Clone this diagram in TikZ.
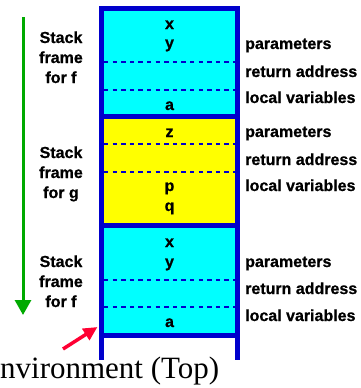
\documentclass[tikz,border=0pt]{standalone}
\usepackage{fontspec}
\setmainfont{Liberation Serif}
\newfontfamily\pixfont{Liberation Sans}[BoldFont={Liberation Sans Bold},BoldFeatures={FakeBold=0.8}]
\usetikzlibrary{arrows.meta}
\definecolor{stackblue}{RGB}{0,0,204}
\definecolor{framecyan}{RGB}{0,255,255}
\definecolor{frameyellow}{RGB}{255,255,0}
\definecolor{downgreen}{RGB}{0,170,0}
\definecolor{toppink}{RGB}{255,0,51}
\begin{document}
\begin{tikzpicture}[x=1pt,y=-1pt,
  lbl/.style={font=\pixfont\bfseries\fontsize{16}{20}\selectfont,inner sep=0pt,anchor=base},
  side/.style={lbl,anchor=base west},
  var/.style={lbl},
  wall/.style={fill=stackblue,draw=none},
  slot/.style={draw=stackblue,line width=2.5pt,dash pattern=on 4.3pt off 4.3pt},
  growth/.style={draw=downgreen,line width=3pt,-{Triangle[length=15pt,width=16pt]}},
  pointer/.style={draw=toppink,line width=3.5pt,-{Triangle[length=14pt,width=13pt]}}]
\useasboundingbox (0,0) rectangle (361,388);
\clip (0,0) rectangle (361,388);

% frame fills
\fill[framecyan]   (104,11)  rectangle (235,114);
\fill[frameyellow] (104,119) rectangle (235,223);
\fill[framecyan]   (104,228) rectangle (235,333);

% slot separators inside each frame
\draw[slot] (104,62)  -- (235,62);
\draw[slot] (104,90)  -- (235,90);
\draw[slot] (104,144) -- (235,144);
\draw[slot] (104,172) -- (235,172);
\draw[slot] (104,280) -- (235,280);
\draw[slot] (104,307) -- (235,307);

% stack walls and frame boundaries
\fill[wall] (98.5,6) rectangle (104,360);
\fill[wall] (235,6)  rectangle (240,360);
\fill[wall] (98.5,6) rectangle (240,11);
\fill[wall] (98.5,114) rectangle (240,119);
\fill[wall] (98.5,223) rectangle (240,228);
\fill[wall] (98.5,333) rectangle (240,337.5);

% variables held in the frames
\node[var] (vx1) at (169.5,29)  {x};
\node[var] (vy1) at (169.5,48)  {y};
\node[var] (va1) at (169.5,110) {a};
\node[var] (vz)  at (169.5,137) {z};
\node[var] (vp)  at (169.5,191) {p};
\node[var] (vq)  at (169.5,211) {q};
\node[var] (vx2) at (169.5,247) {x};
\node[var] (vy2) at (169.5,267) {y};
\node[var] (va2) at (169.5,327) {a};

% frame captions
\node[lbl] (f1a) at (61,43)  {Stack};
\node[lbl] (f1b) at (61,63)  {frame};
\node[lbl] (f1c) at (61,83)  {for f};
\node[lbl] (g1a) at (61,158) {Stack};
\node[lbl] (g1b) at (61,178) {frame};
\node[lbl] (g1c) at (61,198) {for g};
\node[lbl] (f2a) at (61,267) {Stack};
\node[lbl] (f2b) at (61,287) {frame};
\node[lbl] (f2c) at (61,307) {for f};

% slot descriptions
\node[side] (p1) at (245,49)  {parameters};
\node[side] (r1) at (245,77)  {return address};
\node[side] (l1) at (245,103) {local variables};
\node[side] (p2) at (245,137) {parameters};
\node[side] (r2) at (245,165) {return address};
\node[side] (l2) at (245,191) {local variables};
\node[side] (p3) at (245,267) {parameters};
\node[side] (r3) at (245,294) {return address};
\node[side] (l3) at (245,321) {local variables};

% growth direction
\coordinate (gtop) at (23,17);
\coordinate (gbot) at (23,315);
\draw[growth] (gtop) -- (gbot);

% environment pointer
\node[font=\fontsize{31}{36}\selectfont,inner sep=0pt,anchor=base west] (env) at (-19,378) {Environment (Top)};
\coordinate (ptail) at (63,349);
\coordinate (ptip) at (97.5,327);
\draw[pointer] (ptail) -- (ptip);
\end{tikzpicture}
\end{document}
